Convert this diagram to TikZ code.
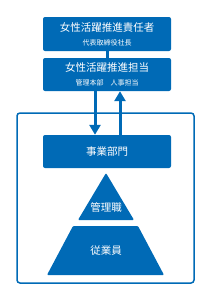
\documentclass[tikz,border=0pt]{standalone}
\usepackage{fontspec}
\setmainfont{Noto Sans CJK JP}
\usetikzlibrary{arrows.meta,positioning,calc}
\definecolor{CorpBlue}{RGB}{0,106,182}
\tikzset{
  bbox/.style={fill=CorpBlue,text=white,rounded corners=2pt,
               minimum width=128pt,minimum height=33pt,inner sep=0pt,
               align=center},
  tlabel/.style={text=white,font=\fontsize{10.5}{12}\selectfont},
  arr/.style={-{Triangle[length=10pt,width=11pt]},CorpBlue,line width=3pt},
}
\newcommand{\bigtxt}{\fontsize{10.5}{12}\selectfont}
\newcommand{\smalltxt}{\fontsize{7}{8}\selectfont}

\begin{document}
\begin{tikzpicture}[x=1pt,y=-1pt]
    \useasboundingbox (0,0) rectangle (211,300);
    \draw[CorpBlue,line width=1.5pt,rounded corners=3pt] (17,113) rectangle (194,283);
    \node[bbox,minimum height=34pt] (chief) at (107,34) {\bigtxt 女性活躍推進責任者\\[2pt]\smalltxt 代表取締役社長};
    \node[bbox] (lead) at (107,74.5) {\bigtxt 女性活躍推進担当\\[1.5pt]\smalltxt 管理本部　人事担当};
    \node[bbox] (dept) at (107,151.5) {\bigtxt 事業部門};
    \draw[CorpBlue,line width=3pt] (chief) -- (lead);
    \draw[arr] ([xshift=-12pt]lead.south) -- ([xshift=-12pt]dept.north);
    \draw[arr] ([xshift=13pt]dept.north) -- ([xshift=13pt]lead.south);
    % pyramid
    \fill[CorpBlue,rounded corners=1pt] (106,173) -- (134,220) -- (78,220) -- cycle;
    \fill[CorpBlue,rounded corners=1pt] (73,226) -- (138,226) -- (164,275) -- (47,275) -- cycle;
    \node[tlabel] (mgr) at (106,207) {管理職};
    \node[tlabel] (staff) at (106,251) {従業員};
\end{tikzpicture}
\end{document}
